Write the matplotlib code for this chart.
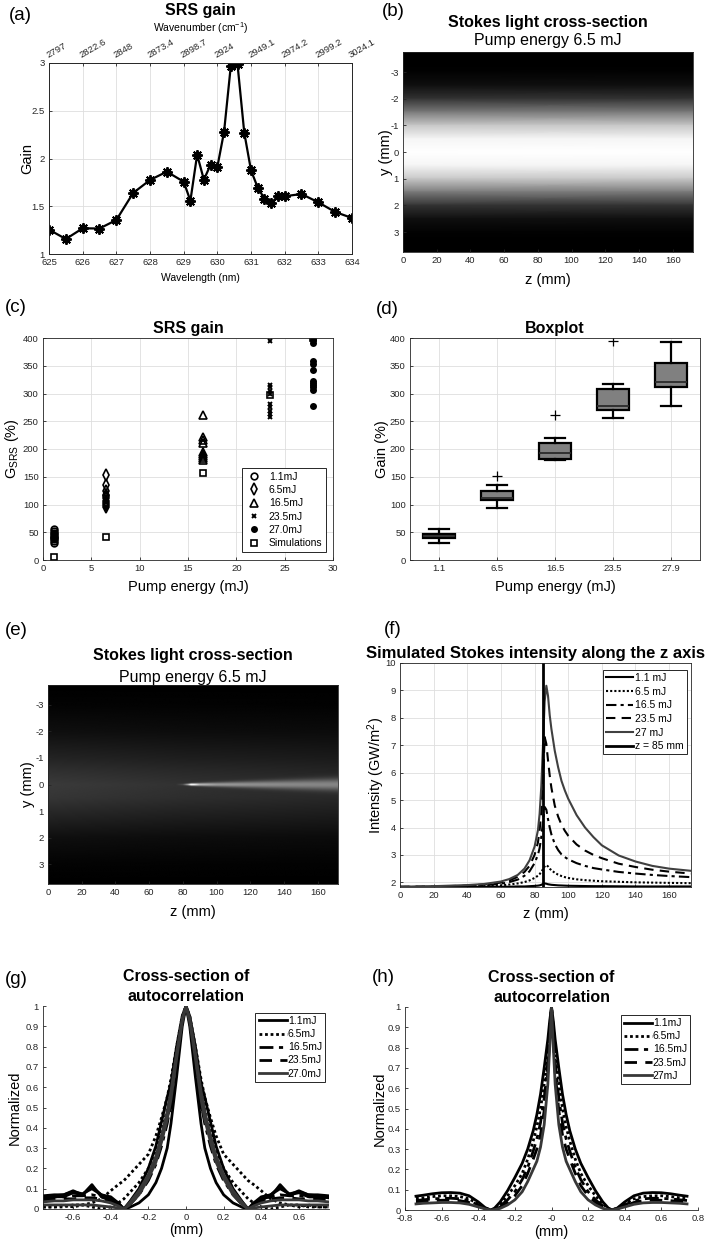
import numpy as np
import matplotlib
matplotlib.use("Agg")
import matplotlib.pyplot as plt
from matplotlib.ticker import FormatStrFormatter

plt.rcParams.update({
    'font.family': ['Liberation Sans', 'DejaVu Sans'],
    'mathtext.fontset': 'custom',
    'mathtext.rm': 'Liberation Sans',
    'mathtext.it': 'Liberation Sans:italic',
    'mathtext.bf': 'Liberation Sans:bold',
    'axes.unicode_minus': False,
    'xtick.direction': 'in', 'ytick.direction': 'in',
    'xtick.major.size': 2.5, 'ytick.major.size': 2.5,
    'xtick.major.width': 0.6, 'ytick.major.width': 0.6,
    'xtick.labelsize': 6.8, 'ytick.labelsize': 6.8,
    'xtick.major.pad': 3, 'ytick.major.pad': 3,
    'axes.linewidth': 0.6,
    'axes.edgecolor': '#262626',
    'xtick.color': '#262626', 'ytick.color': '#262626',
    'grid.color': '#dedede', 'grid.linewidth': 0.6,
    'legend.fontsize': 7.5,
})

# ---------------- data ----------------
# (a) SRS gain spectrum
wavelength_nm = [625, 625.5, 626, 626.5, 627, 627.5, 628, 628.5, 629, 629.2, 629.4, 629.6,
                 629.8, 630, 630.2, 630.4, 630.6, 630.8, 631, 631.2, 631.4, 631.6, 631.8,
                 632, 632.5, 633, 633.5, 634]
gain_a = [1.255, 1.157, 1.269, 1.267, 1.356, 1.639, 1.775, 1.862, 1.757, 1.558, 2.04, 1.778,
          1.935, 1.91, 2.28, 2.97, 2.985, 2.27, 1.876, 1.695, 1.579, 1.534, 1.605, 1.605,
          1.628, 1.541, 1.44, 1.377]
wl_ticks = [625, 626, 627, 628, 629, 630, 631, 632, 633, 634]
wavenumber_labels = ['2797', '2822.6', '2848', '2873.4', '2898.7', '2924', '2949.1',
                     '2974.2', '2999.2', '3024.1']

# (b) transverse brightness profile (uniform along z)
yb_prof = [-3.75, -3.25, -3.0, -2.5, -2.0, -1.5, -1.0, -0.5, 0.0, 0.5, 1.0, 1.5, 2.0, 2.5, 3.0, 3.25, 3.75]
b_bright = [0.0, 0.0, 0.01, 0.06, 0.2, 0.48, 0.78, 0.96, 1.0, 0.96, 0.78, 0.48, 0.2, 0.06, 0.01, 0.0, 0.0]

# (c) SRS gain scatter
c_pump = [1.1, 6.5, 16.5, 23.5, 27.9]
c_11 = [55, 52, 49, 46, 44, 42, 40, 37, 34, 31]
c_65 = [153, 136, 124, 118, 115, 111, 107, 103, 99, 95]
c_165 = [262, 221, 216, 211, 195, 191, 188, 184, 180]
c_235 = [394, 316, 311, 305, 299, 281, 275, 269, 263, 257]
c_270 = [396, 391, 358, 354, 343, 323, 319, 315, 311, 307, 278]
c_sim = [6, 42, 157, 298, 400]

# (d) boxplot statistics
box_labels = ['1.1', '6.5', '16.5', '23.5', '27.9']
box_whislo = [31, 93, 180, 256, 278]
box_q1 = [39, 108, 182, 271, 311]
box_med = [44, 111, 192, 277, 321]
box_q3 = [47, 124, 211, 308, 355]
box_whishi = [55, 136, 219, 317, 392]
box_fliers = [[], [152], [261], [395], []]

# (e) simulated cross-section: background profile + streak
ye_bg = [-3.75, -3.0, -2.0, -1.0, -0.5, 0.0, 0.5, 1.0, 2.0, 3.0, 3.75]
e_bg = [0.0, 0.015, 0.06, 0.14, 0.19, 0.23, 0.21, 0.16, 0.06, 0.015, 0.0]
ze_fac_z = [0, 80, 172]
ze_fac = [1.0, 0.85, 0.75]
ze_streak = [0, 76, 80, 83, 85, 87, 90, 100, 120, 140, 160, 172]
e_amp = [0, 0, 0.12, 0.5, 0.95, 0.8, 0.55, 0.42, 0.38, 0.36, 0.35, 0.35]
e_width = [0.03, 0.03, 0.03, 0.035, 0.04, 0.045, 0.055, 0.08, 0.12, 0.16, 0.2, 0.22]

# (f) Stokes intensity along z
z_f = [0, 20, 40, 50, 60, 65, 70, 74, 77, 80, 82, 83, 84, 85, 86, 87, 88, 89, 90, 92, 94,
       96, 98, 100, 105, 110, 115, 120, 130, 140, 150, 160, 173]
I_11 = [1.83, 1.83, 1.83, 1.83, 1.84, 1.84, 1.85, 1.85, 1.86, 1.87, 1.88, 1.89, 1.91, 1.94,
        1.96, 1.95, 1.93, 1.92, 1.91, 1.90, 1.89, 1.885, 1.88, 1.875, 1.87, 1.865, 1.86,
        1.86, 1.855, 1.85, 1.85, 1.85, 1.85]
I_65 = [1.83, 1.83, 1.84, 1.86, 1.89, 1.92, 1.96, 2.01, 2.07, 2.16, 2.24, 2.30, 2.38, 2.48,
        2.58, 2.63, 2.58, 2.50, 2.44, 2.35, 2.28, 2.23, 2.19, 2.16, 2.11, 2.08, 2.06, 2.04,
        2.02, 2.00, 1.99, 1.98, 1.97]
I_165 = [1.83, 1.84, 1.86, 1.89, 1.95, 2.01, 2.10, 2.24, 2.40, 2.70, 3.00, 3.25, 3.65, 4.20,
         4.75, 4.65, 4.30, 4.00, 3.75, 3.40, 3.18, 3.02, 2.92, 2.84, 2.70, 2.60, 2.52, 2.47,
         2.38, 2.32, 2.27, 2.23, 2.19]
I_235 = [1.84, 1.85, 1.88, 1.92, 1.99, 2.07, 2.20, 2.38, 2.60, 3.00, 3.45, 3.90, 4.60, 5.70,
         7.30, 7.05, 6.45, 5.90, 5.45, 4.80, 4.40, 4.10, 3.88, 3.70, 3.38, 3.16, 3.00, 2.88,
         2.68, 2.56, 2.46, 2.39, 2.32]
I_27 = [1.84, 1.86, 1.90, 1.94, 2.03, 2.12, 2.27, 2.50, 2.80, 3.30, 3.90, 4.50, 5.50, 7.00,
        8.60, 9.17, 8.80, 8.10, 7.60, 6.80, 6.20, 5.70, 5.35, 5.05, 4.45, 4.00, 3.65, 3.35,
        2.98, 2.76, 2.60, 2.50, 2.42]
z_marker = 85

# (g) measured autocorrelation cross-sections (half profiles, symmetric)
xg_half = [0, 0.02, 0.05, 0.08, 0.1, 0.13, 0.16, 0.2, 0.25, 0.3, 0.33, 0.36, 0.4, 0.45,
           0.5, 0.55, 0.6, 0.65, 0.7, 0.76]
g_11a = [1, 0.9, 0.65, 0.42, 0.3, 0.2, 0.13, 0.07, 0.03, 0.008, 0.0, 0.02, 0.05, 0.07,
         0.11, 0.07, 0.09, 0.07, 0.07, 0.065]
g_11b = [1, 0.93, 0.78, 0.5, 0.46, 0.36, 0.24, 0.16, 0.08, 0.03, 0.0, 0.03, 0.05, 0.06,
         0.12, 0.07, 0.08, 0.06, 0.06, 0.055]
g_11c = [1, 0.95, 0.8, 0.62, 0.55, 0.43, 0.31, 0.2, 0.1, 0.035, 0.0, 0.03, 0.06, 0.07,
         0.1, 0.075, 0.085, 0.07, 0.065, 0.06]
g_65a = [1, 0.95, 0.8, 0.64, 0.55, 0.45, 0.36, 0.27, 0.22, 0.17, 0.14, 0.12, 0.09, 0.05,
         0.03, 0.02, 0.02, 0.01, 0.01, 0.01]
g_65b = [1, 0.93, 0.76, 0.58, 0.49, 0.38, 0.29, 0.2, 0.13, 0.08, 0.05, 0.03, 0.01, 0.0,
         0.01, 0.02, 0.01, 0.02, 0.01, 0.01]
g_165 = [1, 0.92, 0.72, 0.52, 0.42, 0.31, 0.22, 0.14, 0.07, 0.02, 0.0, 0.02, 0.04, 0.06,
         0.07, 0.065, 0.065, 0.06, 0.06, 0.055]
g_235 = [1, 0.93, 0.75, 0.56, 0.46, 0.34, 0.25, 0.16, 0.085, 0.03, 0.0, 0.02, 0.04, 0.05,
         0.055, 0.055, 0.05, 0.05, 0.05, 0.045]
g_27a = [1, 0.94, 0.77, 0.58, 0.48, 0.36, 0.26, 0.17, 0.09, 0.03, 0.0, 0.015, 0.03, 0.04,
         0.045, 0.045, 0.045, 0.04, 0.04, 0.035]
g_27b = [1, 0.92, 0.74, 0.54, 0.44, 0.33, 0.23, 0.15, 0.07, 0.02, 0.0, 0.005, 0.01, 0.015,
         0.02, 0.02, 0.02, 0.02, 0.02, 0.02]

# (h) simulated autocorrelation cross-sections (half profiles, symmetric)
xh_half = [0, 0.01, 0.02, 0.04, 0.06, 0.08, 0.1, 0.13, 0.16, 0.2, 0.24, 0.28, 0.31, 0.33,
           0.36, 0.4, 0.45, 0.5, 0.55, 0.6, 0.65, 0.7, 0.74]
h_11 = [1, 0.93, 0.84, 0.7, 0.57, 0.47, 0.39, 0.3, 0.23, 0.16, 0.095, 0.04, 0.01, 0.0,
        0.01, 0.04, 0.07, 0.083, 0.086, 0.085, 0.08, 0.073, 0.068]
h_65 = [1, 0.9, 0.78, 0.62, 0.5, 0.41, 0.34, 0.25, 0.18, 0.12, 0.07, 0.03, 0.008, 0.0,
        0.01, 0.03, 0.055, 0.066, 0.07, 0.07, 0.066, 0.06, 0.057]
h_165 = [1, 0.87, 0.73, 0.55, 0.43, 0.35, 0.29, 0.21, 0.15, 0.09, 0.05, 0.02, 0.005, 0.0,
         0.008, 0.025, 0.045, 0.055, 0.058, 0.057, 0.055, 0.05, 0.047]
h_235 = [1, 0.84, 0.68, 0.49, 0.37, 0.3, 0.25, 0.18, 0.12, 0.07, 0.037, 0.014, 0.003, 0.0,
         0.006, 0.02, 0.037, 0.046, 0.049, 0.048, 0.046, 0.042, 0.04]
h_27 = [1, 0.8, 0.62, 0.42, 0.31, 0.24, 0.2, 0.14, 0.09, 0.05, 0.025, 0.008, 0.002, 0.0,
        0.005, 0.015, 0.028, 0.035, 0.037, 0.037, 0.035, 0.033, 0.03]

# ---------------- figure ----------------
W, H = 711, 1245
fig = plt.figure(figsize=(W / 100, H / 100), dpi=100)


def add_ax(l, r, t, b):
    return fig.add_axes([l / W, 1 - b / H, (r - l) / W, (b - t) / H])


def title_line(ax, text, px_above, bold=True, dx_px=0, size=11.5):
    ax.annotate(text, xy=(0.5, 1), xycoords='axes fraction',
                xytext=(dx_px * 0.72, px_above * 0.72), textcoords='offset points',
                ha='center', va='baseline', fontsize=size,
                fontweight='bold' if bold else 'normal', annotation_clip=False)


def panel_letter(text, x, y):
    fig.text(x / W, 1 - y / H, text, fontsize=13.5, ha='center', va='center')


def mirror(xh, yh):
    xh = np.asarray(xh, float)
    yh = np.asarray(yh, float)
    return np.concatenate([-xh[::-1], xh[1:]]), np.concatenate([yh[::-1], yh[1:]])


def style_legend(leg):
    fr = leg.get_frame()
    fr.set_edgecolor('#262626')
    fr.set_linewidth(0.7)
    fr.set_alpha(1)

LAB = 10.5

# ---- (a)
ax = add_ax(49, 352, 63, 254)
ax.plot(wavelength_nm, gain_a, color='k', lw=1.6, marker=(8, 2, 0), ms=7.5, mew=1.4)
ax.set_xlim(625, 634)
ax.set_ylim(1, 3)
ax.set_xticks(wl_ticks)
ax.set_yticks([1, 1.5, 2, 2.5, 3])
ax.yaxis.set_major_formatter(FormatStrFormatter('%g'))
ax.grid(True)
ax.set_axisbelow(True)
ax.set_xlabel('Wavelength (nm)', fontsize=7.5)
ax.xaxis.set_label_coords(0.5, -0.1)
ax.set_ylabel('Gain', fontsize=LAB)
ax.yaxis.set_label_coords(-0.05, 0.5)
ax2 = ax.twiny()
ax2.set_xlim(625, 634)
ax2.set_xticks(wl_ticks)
ax2.set_xticklabels(wavenumber_labels, rotation=30, ha='left', va='bottom',
                    rotation_mode='anchor', fontsize=6.8)
ax2.tick_params(axis='x', direction='in', pad=2)
title_line(ax, 'SRS gain', 48)
title_line(ax, 'Wavenumber (cm$^{-1}$)', 31, bold=False, size=7.5)
panel_letter('(a)', 20, 16)

# ---- (b)
ax = add_ax(403, 693, 52, 252)
Zb, Yb = np.meshgrid([0, 172], yb_prof)
Cb = np.column_stack([b_bright, b_bright])
ax.pcolormesh(Zb, Yb, Cb, shading='gouraud', cmap='gray', vmin=0, vmax=1)
ax.set_xlim(0, 172)
ax.set_ylim(3.75, -3.75)
ax.set_xticks(range(0, 161, 20))
ax.set_yticks([-3, -2, -1, 0, 1, 2, 3])
ax.set_xlabel('z (mm)', fontsize=LAB)
ax.xaxis.set_label_coords(0.5, -0.103)
ax.set_ylabel('y (mm)', fontsize=LAB)
ax.yaxis.set_label_coords(-0.035, 0.5)
title_line(ax, 'Stokes light cross-section', 25)
title_line(ax, 'Pump energy 6.5 mJ', 7, bold=False)
panel_letter('(b)', 393, 12)

# ---- (c)
ax = add_ax(43, 333, 338, 560)
mk = dict(ls='none', mec='k', mew=1.2)
ax.plot([c_pump[0]] * len(c_11), c_11, marker='o', ms=4.8, mfc='none', label='1.1mJ', **mk)
ax.plot([c_pump[1]] * len(c_65), c_65, marker='d', ms=5.8, mfc='none', label='6.5mJ', **mk)
ax.plot([c_pump[2]] * len(c_165), c_165, marker='^', ms=5.8, mfc='none', label='16.5mJ', **mk)
ax.plot([c_pump[3]] * len(c_235), c_235, marker='x', ms=3.5, mfc='none', label='23.5mJ',
        ls='none', mec='k', mew=1.4)
ax.plot([c_pump[4]] * len(c_270), c_270, marker='o', ms=3.8, mfc='k', label='27.0mJ', **mk)
ax.plot(c_pump, c_sim, marker='s', ms=4.8, mfc='none', label='Simulations', **mk)
ax.set_xlim(0, 30)
ax.set_ylim(0, 400)
ax.set_xticks(range(0, 31, 5))
ax.set_yticks(range(0, 401, 50))
ax.grid(True)
ax.set_axisbelow(True)
ax.set_xlabel('Pump energy (mJ)', fontsize=LAB)
ax.xaxis.set_label_coords(0.5, -0.09)
ax.set_ylabel('G$_{\\mathrm{SRS}}$ (%)', fontsize=LAB)
ax.yaxis.set_label_coords(-0.075, 0.5)
leg = ax.legend(loc='lower right', bbox_to_anchor=(0.976, 0.036), fancybox=False,
                handlelength=1.6, handletextpad=0.6, borderpad=0.35, labelspacing=0.32,
                borderaxespad=0)
style_legend(leg)
title_line(ax, 'SRS gain', 5)
panel_letter('(c)', 16, 308)

# ---- (d)
ax = add_ax(410, 700, 338, 560)
stats = []
for i in range(len(box_labels)):
    stats.append(dict(label=box_labels[i], whislo=box_whislo[i], q1=box_q1[i],
                      med=box_med[i], q3=box_q3[i], whishi=box_whishi[i],
                      fliers=box_fliers[i]))
pos = list(range(1, len(box_labels) + 1))
ax.bxp(stats, positions=pos, widths=0.55, patch_artist=True, capwidths=0.36,
       boxprops=dict(facecolor='#808080', edgecolor='k', linewidth=1.6),
       whiskerprops=dict(color='k', linewidth=1.6),
       capprops=dict(color='k', linewidth=1.6),
       medianprops=dict(color='#2a2a2a', linewidth=1.3),
       flierprops=dict(marker='+', markeredgecolor='k', markersize=7.5, markeredgewidth=0.9),
       manage_ticks=False)
ax.set_xlim(0.5, 5.5)
ax.set_ylim(0, 400)
ax.set_xticks(pos)
ax.set_xticklabels(box_labels)
ax.set_yticks(range(0, 401, 50))
ax.grid(True)
ax.set_axisbelow(True)
ax.set_xlabel('Pump energy (mJ)', fontsize=LAB)
ax.xaxis.set_label_coords(0.5, -0.09)
ax.set_ylabel('Gain (%)', fontsize=LAB)
ax.yaxis.set_label_coords(-0.072, 0.5)
title_line(ax, 'Boxplot', 5)
panel_letter('(d)', 387, 309)

# ---- (e)
ax = add_ax(48, 338, 685, 884)
z_e = np.linspace(0, 172, 520)
y_e = np.linspace(-3.75, 3.75, 500)
bg = np.interp(y_e, ye_bg, e_bg)[:, None] * np.interp(z_e, ze_fac_z, ze_fac)[None, :]
amp = np.interp(z_e, ze_streak, e_amp)
wid = np.interp(z_e, ze_streak, e_width)
streak = amp[None, :] * np.exp(-(y_e[:, None] / wid[None, :]) ** 2)
img = np.clip(bg + streak, 0, 1)
ax.imshow(img, extent=[0, 172, 3.75, -3.75], aspect='auto', cmap='gray', vmin=0, vmax=1,
          interpolation='bilinear', origin='upper')
ax.set_xlim(0, 172)
ax.set_ylim(3.75, -3.75)
ax.set_xticks(range(0, 161, 20))
ax.set_yticks([-3, -2, -1, 0, 1, 2, 3])
ax.set_xlabel('z (mm)', fontsize=LAB)
ax.xaxis.set_label_coords(0.5, -0.105)
ax.set_ylabel('y (mm)', fontsize=LAB)
ax.yaxis.set_label_coords(-0.045, 0.5)
title_line(ax, 'Stokes light cross-section', 25)
title_line(ax, 'Pump energy 6.5 mJ', 3, bold=False)
panel_letter('(e)', 16, 631)

# ---- (f)
ax = add_ax(400, 691, 663, 887)
lw = 1.5
ax.plot(z_f, I_11, color='k', lw=lw, ls='-', label='1.1 mJ')
ax.plot(z_f, I_65, color='k', lw=lw, ls=(0, (1, 1)), label='6.5 mJ')
ax.plot(z_f, I_165, color='k', lw=lw, ls=(0, (5, 2, 1.5, 2)), label='16.5 mJ')
ax.plot(z_f, I_235, color='k', lw=lw, ls=(0, (4.5, 3)), label='23.5 mJ')
ax.plot(z_f, I_27, color='#404040', lw=lw, ls='-', label='27 mJ')
ax.axvline(z_marker, color='k', lw=2, label='z = 85 mm')
ax.set_xlim(0, 173)
ax.set_ylim(1.83, 10)
ax.set_xticks(range(0, 161, 20))
ax.set_yticks(range(2, 11))
ax.grid(True)
ax.set_axisbelow(True)
ax.set_xlabel('z (mm)', fontsize=LAB)
ax.xaxis.set_label_coords(0.5, -0.089)
ax.set_ylabel('Intensity (GW/m$^{2}$)', fontsize=LAB)
ax.yaxis.set_label_coords(-0.045, 0.5)
leg = ax.legend(loc='upper right', bbox_to_anchor=(0.986, 0.969), fancybox=False,
                handlelength=2.6, handletextpad=0.2, borderpad=0.3, labelspacing=0.35,
                borderaxespad=0)
style_legend(leg)
title_line(ax, 'Simulated Stokes intensity along the z axis', 5, dx_px=-10, size=12)
panel_letter('(f)', 393, 629)

# ---- (g)
ax = add_ax(43, 329, 1006, 1209)
glw = 2.0
groups_g = [
    ([g_11a, g_11b, g_11c], dict(color='k', ls='-'), '1.1mJ'),
    ([g_65a, g_65b], dict(color='k', ls=(0, (1, 1))), '6.5mJ'),
    ([g_165], dict(color='k', ls=(0, (5, 2, 1.5, 2))), '16.5mJ'),
    ([g_235], dict(color='k', ls=(0, (4.5, 3))), '23.5mJ'),
    ([g_27a, g_27b], dict(color='#383838', ls='-'), '27.0mJ'),
]
for curves, sty, lab in groups_g:
    for j, cv in enumerate(curves):
        xx, yy = mirror(xg_half, cv)
        ax.plot(xx, yy, lw=glw, label=lab if j == 0 else None, **sty)
ax.set_xlim(-0.76, 0.76)
ax.set_ylim(0, 1)
ax.set_xticks([-0.6, -0.4, -0.2, 0, 0.2, 0.4, 0.6])
ax.set_yticks(np.arange(0, 1.01, 0.1))
ax.xaxis.set_major_formatter(FormatStrFormatter('%g'))
ax.yaxis.set_major_formatter(FormatStrFormatter('%g'))
for s in ['top', 'right']:
    ax.spines[s].set_visible(False)
ax.set_xlabel('(mm)', fontsize=LAB)
ax.xaxis.set_label_coords(0.5, -0.069)
ax.set_ylabel('Normalized', fontsize=LAB)
ax.yaxis.set_label_coords(-0.075, 0.5)
leg = ax.legend(loc='upper right', bbox_to_anchor=(0.986, 0.966), fancybox=False,
                handlelength=2.7, handletextpad=0.1, borderpad=0.3, labelspacing=0.3,
                borderaxespad=0)
style_legend(leg)
title_line(ax, 'Cross-section of', 25)
title_line(ax, 'autocorrelation', 5)
panel_letter('(g)', 16, 979)

# ---- (h)
ax = add_ax(405, 698, 1007, 1210)
groups_h = [
    (h_11, dict(color='k', ls='-'), '1.1mJ'),
    (h_65, dict(color='k', ls=(0, (1, 1))), '6.5mJ'),
    (h_165, dict(color='k', ls=(0, (5, 2, 1.5, 2))), '16.5mJ'),
    (h_235, dict(color='k', ls=(0, (4.5, 3))), '23.5mJ'),
    (h_27, dict(color='#383838', ls='-'), '27mJ'),
]
for cv, sty, lab in groups_h:
    xx, yy = mirror(xh_half, cv)
    ax.plot(xx, yy, lw=2.0, label=lab, **sty)
ax.set_xlim(-0.8, 0.8)
ax.set_ylim(0, 1)
ax.set_xticks(np.round(np.arange(-0.8, 0.81, 0.2), 1))
ax.set_yticks(np.arange(0, 1.01, 0.1))
ax.xaxis.set_major_formatter(FormatStrFormatter('%g'))
ax.yaxis.set_major_formatter(FormatStrFormatter('%g'))
for s in ['top', 'right']:
    ax.spines[s].set_visible(False)
ax.set_xlabel('(mm)', fontsize=LAB)
ax.xaxis.set_label_coords(0.5, -0.074)
ax.set_ylabel('Normalized', fontsize=LAB)
ax.yaxis.set_label_coords(-0.062, 0.5)
leg = ax.legend(loc='upper right', bbox_to_anchor=(0.973, 0.96), fancybox=False,
                handlelength=2.7, handletextpad=0.1, borderpad=0.3, labelspacing=0.3,
                borderaxespad=0)
style_legend(leg)
title_line(ax, 'Cross-section of', 25)
title_line(ax, 'autocorrelation', 5)
panel_letter('(h)', 383, 977)

fig.savefig('out.png', dpi=100)
